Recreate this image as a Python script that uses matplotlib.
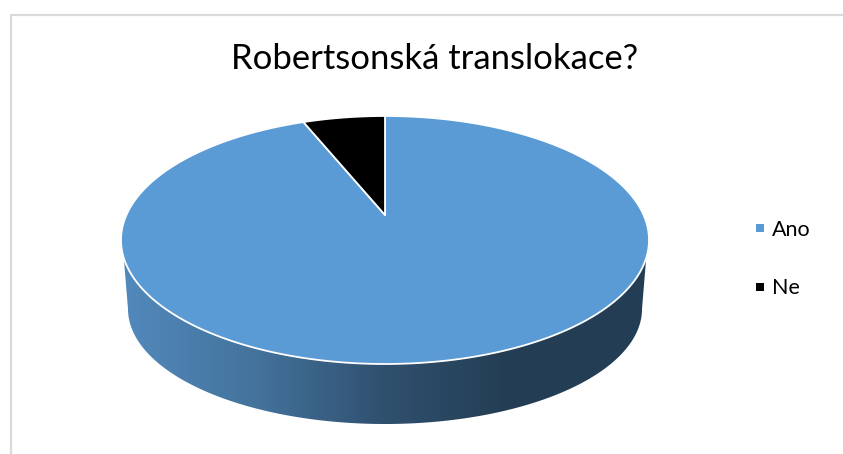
import numpy as np
import matplotlib
matplotlib.use("Agg")
import matplotlib.pyplot as plt
from matplotlib.colors import LinearSegmentedColormap
from matplotlib.lines import Line2D
from matplotlib.patches import Polygon

# Chart data
categories = ["Ano", "Ne"]
shares = [95, 5]
slice_colors = ["#5B9BD5", "#000000"]
chart_title = "Robertsonská translokace?"

# Projected geometry of the tilted disc, in figure pixels
CX, CY, RX, RY = 385, 240, 264, 124
APEX = (385, 215)
BASE_CY, BASE_RX, BASE_RY = 309, 257, 115
WALL_TOP_Y = 258

plt.rcParams["font.family"] = ["Lato", "DejaVu Sans"]

fig = plt.figure(figsize=(8.43, 4.54), dpi=100)
ax = fig.add_axes([0, 0, 1, 1])
ax.set_xlim(0, 843)
ax.set_ylim(454, 0)
ax.axis("off")

# Frame of the chart area: only top and left edges are in view
ax.plot([843, 10.5, 10.5], [14.5, 14.5, 454], color="#D9D9D9", lw=1.6, zorder=1)


def rim_point(theta):
    """Point on the top ellipse, theta in radians counter-clockwise from east."""
    return CX + RX * np.cos(theta), CY - RY * np.sin(theta)


# Side wall of the disc with a horizontal shading ramp
t_left = np.arcsin((WALL_TOP_Y - CY) / RY)
top_t = np.linspace(np.pi + t_left, 2 * np.pi - t_left, 200)
top_x = CX + RX * np.cos(top_t)
top_y = CY - RY * np.sin(top_t)
base_t = np.linspace(2 * np.pi, np.pi, 200)
base_x = CX + BASE_RX * np.cos(base_t)
base_y = BASE_CY - BASE_RY * np.sin(base_t)
wall = Polygon(np.column_stack([np.r_[top_x, base_x], np.r_[top_y, base_y]]),
               closed=True, facecolor="none", edgecolor="none", transform=ax.transData)
ax.add_patch(wall)
ramp = LinearSegmentedColormap.from_list(
    "wall",
    [(0.0, "#5289BC"), (0.25, "#44739C"), (0.50, "#30506F"), (0.72, "#243F55"), (1.0, "#233E54")],
)
shade = ax.imshow(np.linspace(0, 1, 512)[None, :], cmap=ramp, aspect="auto",
                  extent=(122, 648, 430, 250), zorder=2)
shade.set_clip_path(wall)
ax.set_xlim(0, 843)
ax.set_ylim(454, 0)

# Top face: slices run clockwise from twelve o'clock
angle = np.pi / 2
for value, color in zip(shares, slice_colors):
    sweep = 2 * np.pi * value / sum(shares)
    t = np.linspace(angle, angle - sweep, 300)
    x, y = rim_point(t)
    pts = np.column_stack([np.r_[APEX[0], x], np.r_[APEX[1], y]])
    ax.add_patch(Polygon(pts, closed=True, facecolor=color, edgecolor="white",
                         lw=1.3, joinstyle="round", zorder=3))
    angle -= sweep

ax.text(435, 59, chart_title, ha="center", va="center", fontsize=24.9, color="#000000")

handles = [Line2D([], [], ls="none", marker="s", ms=5.8, color=c, mew=0) for c in slice_colors]
ax.legend(handles, categories, loc="center left", bbox_to_anchor=(753.5 / 843, 1 - 259 / 454),
          bbox_transform=fig.transFigure, frameon=False, fontsize=15.5, labelspacing=1.78,
          handletextpad=0.25, handlelength=0.6, borderpad=0, borderaxespad=0, labelcolor="#000000")

fig.savefig("out.png", dpi=100)
